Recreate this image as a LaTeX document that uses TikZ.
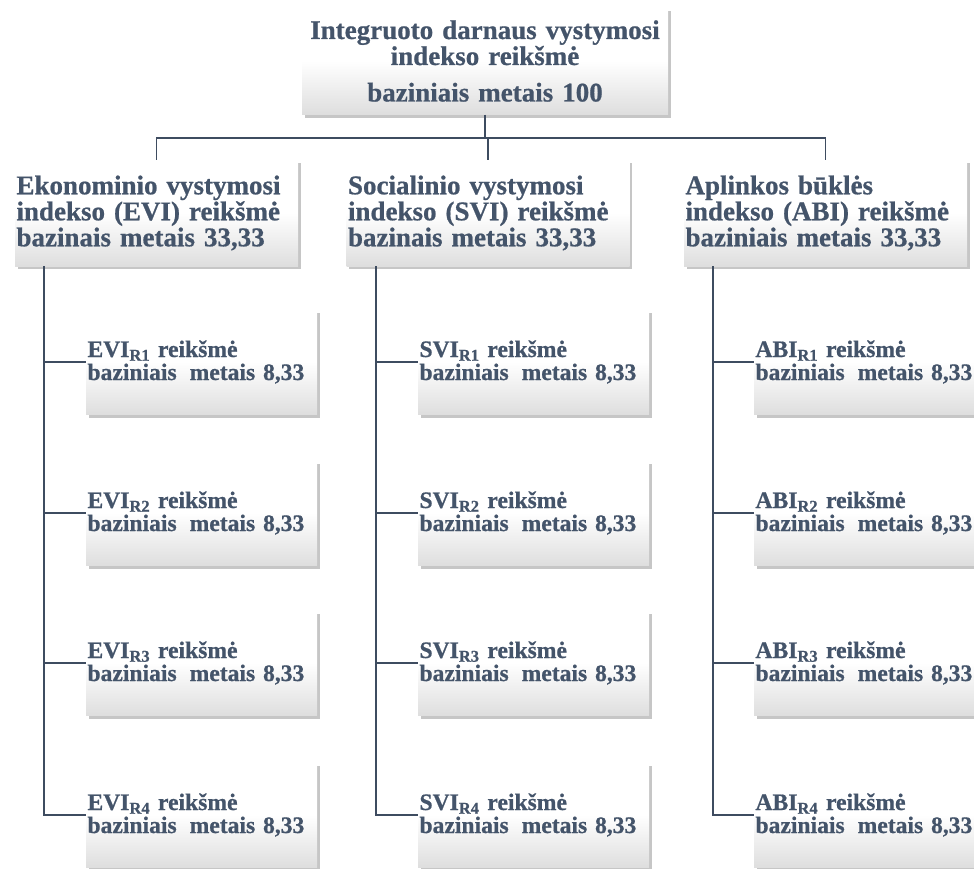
\documentclass[tikz,border=0pt]{standalone}
\usepackage{fontspec}
\setmainfont[BoldFeatures={FakeBold=0.7}]{Liberation Serif}
\usetikzlibrary{shadows,positioning,calc}
\definecolor{txt}{HTML}{44546A}
\definecolor{ln}{HTML}{3E4C60}
\tikzset{
  box/.style={draw=none, inner sep=0pt, align=left,
    top color=white, bottom color=black!13, middle color=white,
    drop shadow={opacity=0.45, shadow xshift=2.5pt, shadow yshift=-3pt},
    font=\bfseries, text=txt},
  topbox/.style={box, minimum width=366pt, minimum height=107pt, text width=362pt, align=center,
    font=\fontsize{27}{24.5}\selectfont\bfseries},
  midbox/.style={box, minimum width=283pt, minimum height=106pt, text width=280pt,
    font=\fontsize{27}{26}\selectfont\bfseries},
  leafbox/.style={box, minimum width=231pt, minimum height=105pt, text width=228pt,
    font=\fontsize{23.6}{23}\selectfont\bfseries},
  conn/.style={draw=ln, line width=1.8pt}
}
\newcommand{\leaf}[2]{#1\textsubscript{R#2} reikšmė\\baziniais\hspace{0.55em}metais 8,33}
\begin{document}
\begin{tikzpicture}[x=1pt,y=-1pt]
\useasboundingbox (0,0) rectangle (974,868);
\clip (0,0) rectangle (974,868);
\node[topbox] (top) at (485,61) {Integruoto darnaus vystymosi\\indekso reikšmė\\[12pt]baziniais metais 100};
\node[midbox] (evi) at (156.5,213) {Ekonominio vystymosi\\indekso (EVI) reikšmė\\bazinais metais 33,33};
\node[midbox] (svi) at (488,213) {Socialinio vystymosi\\indekso (SVI) reikšmė\\bazinais metais 33,33};
\node[midbox] (abi) at (825.5,213) {Aplinkos būklės\\indekso (ABI) reikšmė\\baziniais metais 33,33};
\foreach \i/\y in {1/362,2/513,3/663,4/815}{
  \node[leafbox] (e\i) at (201.5,\y) {\leaf{EVI}{\i}};
  \node[leafbox] (s\i) at (533.5,\y) {\leaf{SVI}{\i}};
  \node[leafbox] (a\i) at (869.5,\y) {\leaf{ABI}{\i}};
}
\coordinate (hub) at ($(top.south)+(0,23)$);
\draw[conn] (top.south) -- (hub);
\draw[conn] (evi.north) |- (hub) -| (abi.north);
\draw[conn] (svi.north) -- (svi.north |- hub);
\coordinate (evisp) at (44,266);
\coordinate (svisp) at (376,266);
\coordinate (abisp) at (713,266);
\foreach \p/\c in {evi/e, svi/s, abi/a}{
  \draw[conn] (\p sp) |- (\c4.west);
  \foreach \i in {1,2,3}{\draw[conn] (\p sp |- \c\i.west) -- (\c\i.west);}
}
\end{tikzpicture}
\end{document}
